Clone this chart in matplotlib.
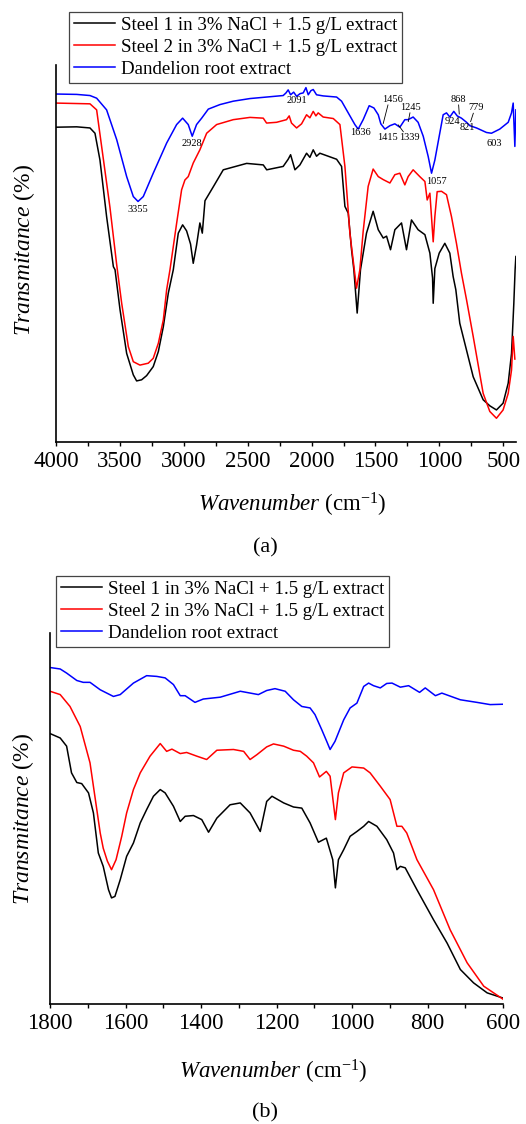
import matplotlib
matplotlib.use('Agg')
import matplotlib.pyplot as plt
from matplotlib.ticker import MultipleLocator

plt.rcParams['font.family'] = ['Liberation Serif', 'DejaVu Serif']
plt.rcParams['mathtext.fontset'] = 'custom'
plt.rcParams['mathtext.rm'] = 'Liberation Serif'
plt.rcParams['mathtext.it'] = 'Liberation Serif:italic'

# --- labels ---
series_labels = ['Steel 1 in 3% NaCl + 1.5 g/L extract',
                 'Steel 2 in 3% NaCl + 1.5 g/L extract',
                 'Dandelion root extract']

# --- panel (a): full range, transmittance in arbitrary % units ---
a_blue_wn = [4000, 3838, 3734, 3682, 3604, 3525, 3447, 3395, 3358, 3317, 3239, 3134, 3056,
             3009, 2965, 2934, 2900, 2860, 2808, 2717, 2613, 2482, 2352, 2222, 2200, 2183,
             2164, 2140, 2117, 2090, 2065, 2044, 2026, 2005, 1987, 1961, 1909, 1804, 1765,
             1713, 1661, 1635, 1596, 1549, 1512, 1478, 1458, 1426, 1387, 1348, 1309, 1270,
             1244, 1205, 1166, 1126, 1087, 1061, 1035, 1001, 970, 944, 918, 887, 860, 827,
             787, 761, 709, 631, 592, 527, 461, 435, 422, 409, 401]
a_blue_t = [92.3, 92.2, 91.9, 91.2, 88.1, 80.2, 70.4, 65.1, 63.8, 65.1, 71.3, 79.3, 84.2,
            85.9, 84.2, 81.1, 84.2, 85.9, 88.3, 89.5, 90.4, 91.1, 91.5, 91.9, 92.6, 93.4,
            92.1, 92.8, 91.7, 92.4, 92.6, 94.0, 92.1, 93.2, 93.5, 92.1, 91.8, 91.5, 90.4,
            87.3, 84.2, 83.0, 85.5, 89.2, 88.6, 86.8, 84.4, 83.0, 83.9, 84.4, 83.5, 85.5,
            85.5, 86.2, 84.8, 81.1, 75.7, 71.3, 74.8, 81.1, 86.8, 87.3, 86.2, 87.7, 86.5, 85.9,
            84.8, 83.9, 83.3, 82.1, 81.9, 83.0, 84.8, 87.3, 89.9, 78.4, 88.1]

a_red_wn = [4000, 3734, 3682, 3630, 3578, 3525, 3486, 3434, 3395, 3343, 3278, 3239, 3199,
            3160, 3134, 3108, 3056, 3017, 2991, 2965, 2926, 2874, 2821, 2743, 2613, 2482,
            2378, 2352, 2274, 2196, 2175, 2157, 2117, 2078, 2039, 2013, 1987, 1966, 1948,
            1909, 1830, 1778, 1739, 1700, 1648, 1622, 1596, 1557, 1518, 1478, 1439, 1387,
            1348, 1309, 1270, 1244, 1205, 1153, 1113, 1095, 1074, 1048, 1035, 1017, 983,
            944, 905, 866, 827, 787, 735, 657, 605, 553, 501, 461, 435, 422, 409]
a_red_t = [89.9, 89.7, 88.1, 75.2, 62.3, 47.0, 36.8, 25.3, 21.3, 20.4, 20.9, 22.2, 26.2,
           32.4, 40.4, 45.7, 58.0, 66.9, 69.5, 70.4, 74.0, 77.5, 81.9, 84.2, 85.5, 86.1,
           85.9, 84.6, 84.8, 85.5, 86.5, 84.6, 83.3, 84.4, 86.8, 86.0, 87.7, 86.5, 87.3,
           86.2, 85.8, 84.2, 73.1, 55.4, 40.8, 45.7, 55.9, 67.8, 72.4, 70.4, 69.6, 68.7,
           70.9, 71.3, 68.2, 70.4, 72.2, 70.4, 69.1, 64.2, 66.0, 53.1, 59.8, 66.4, 66.5,
           65.6, 59.8, 52.7, 44.8, 37.7, 28.0, 12.9, 8.1, 6.3, 8.5, 12.9, 19.1, 28.0, 22.0]

a_black_wn = [4000, 3838, 3734, 3695, 3656, 3604, 3551, 3538, 3499, 3447, 3395, 3369, 3330,
              3291, 3239, 3199, 3160, 3121, 3082, 3043, 3009, 2978, 2947, 2926, 2900, 2874,
              2855, 2834, 2769, 2691, 2508, 2378, 2351, 2222, 2183, 2164, 2130, 2091, 2039,
              2013, 1987, 1961, 1935, 1804, 1765, 1739, 1713, 1687, 1669, 1643, 1617, 1570,
              1518, 1478, 1439, 1413, 1382, 1348, 1296, 1257, 1218, 1166, 1113, 1074, 1053,
              1048, 1035, 1001, 957, 918, 892, 871, 840, 735, 657, 605, 553, 501, 461, 435,
              417, 407, 401]
a_black_t = [83.5, 83.6, 83.3, 81.9, 74.8, 59.8, 46.5, 45.7, 35.1, 23.5, 17.8, 16.2, 16.5,
             17.6, 20.0, 24.0, 30.6, 39.5, 45.7, 55.4, 57.6, 56.0, 52.5, 47.4, 52.2, 58.1,
             55.4, 64.0, 67.7, 72.2, 73.9, 73.5, 72.2, 73.1, 75.0, 76.2, 72.2, 73.5, 76.6,
             75.5, 77.5, 75.8, 76.6, 75.0, 73.1, 62.5, 60.7, 51.0, 45.7, 34.2, 45.7, 55.4,
             61.2, 56.3, 54.1, 54.6, 51.0, 56.3, 58.1, 51.0, 58.9, 56.3, 55.0, 50.1, 43.5,
             36.8, 46.0, 50.1, 52.7, 50.1, 43.9, 40.4, 31.5, 17.3, 11.2, 9.6, 8.5, 10.3, 15.6,
             23.5, 36.8, 45.7, 49.2]

# peak labels on the blue curve: text, text position, leader line end
peak_text = ['3355', '2928', '2091', '1636', '1456', '1415', '1339', '1245', '1057',
             '924', '868', '821', '779', '603']
peak_text_wn = [3361, 2933, 2116, 1613, 1365, 1404, 1230, 1222, 1021, 901, 849, 781, 715, 572]
peak_text_t = [61.7, 79.2, 90.5, 82.1, 90.9, 80.8, 80.8, 88.8, 69.2, 85.0, 90.9, 83.4, 88.8, 79.1]
leader_from_wn = [None, None, None, None, 1402, None, 1321, 1230, None, None, 849, None, 734, None]
leader_from_t = [None, None, None, None, 89.4, None, 84.1, 87.3, None, None, 89.4, None, 87.2, None]
leader_to_wn = [None, None, None, None, 1439, None, 1282, 1243, None, None, 844, None, 755, None]
leader_to_t = [None, None, None, None, 84.5, None, 82.3, 85.0, None, None, 87.0, None, 85.0, None]

# --- panel (b): 1800-600 cm-1 ---
b_blue_wn = [1800, 1773, 1756, 1729, 1712, 1694, 1667, 1632, 1614, 1579, 1544, 1517, 1495,
             1473, 1455, 1442, 1416, 1394, 1349, 1296, 1248, 1226, 1204, 1177, 1155, 1133,
             1111, 1098, 1080, 1067, 1058, 1045, 1022, 1005, 987, 969, 956, 943, 925, 908,
             894, 872, 850, 821, 806, 779, 762, 713, 669, 634, 600]
b_blue_t = [90.7, 90.3, 89.2, 87.2, 86.7, 86.7, 84.7, 82.9, 83.4, 86.5, 88.5, 88.3, 87.9,
            86.1, 83.1, 83.1, 81.3, 82.2, 82.7, 84.3, 83.4, 84.5, 85.0, 84.3, 82.0, 80.2,
            79.8, 78.0, 73.9, 70.8, 68.6, 70.8, 76.6, 79.8, 81.1, 85.6, 86.5, 85.8, 85.2, 86.4,
            86.5, 85.4, 85.8, 84.0, 85.2, 83.1, 83.8, 82.0, 81.3, 80.7, 80.8]

b_red_wn = [1800, 1773, 1747, 1720, 1694, 1676, 1667, 1659, 1648, 1637, 1625, 1614, 1610,
            1597, 1579, 1561, 1535, 1508, 1491, 1477, 1455, 1438, 1411, 1385, 1358, 1314,
            1287, 1270, 1252, 1226, 1208, 1181, 1155, 1137, 1120, 1102, 1086, 1068, 1058,
            1044, 1036, 1022, 1000, 969, 952, 925, 899, 881, 868, 855, 828, 784, 740, 695,
            651, 600]
b_red_t = [84.3, 83.4, 80.2, 74.8, 65.0, 52.4, 46.1, 42.0, 38.5, 36.2, 38.9, 43.5, 45.2,
           51.5, 57.8, 62.3, 66.8, 70.2, 68.1, 68.7, 67.5, 67.8, 66.8, 65.9, 68.4, 68.6,
           68.1, 65.9, 67.2, 69.3, 70.1, 69.5, 68.4, 68.1, 66.8, 65.0, 61.2, 62.7, 61.4,
           49.7, 56.9, 62.3, 63.9, 63.6, 62.3, 58.7, 55.1, 47.9, 47.9, 46.1, 38.9, 30.8,
           20.0, 11.1, 4.8, 1.3]

b_black_wn = [1800, 1773, 1756, 1743, 1729, 1716, 1698, 1685, 1672, 1659, 1645, 1637, 1628,
              1614, 1597, 1579, 1561, 1544, 1526, 1508, 1495, 1473, 1455, 1442, 1420, 1398,
              1380, 1358, 1323, 1296, 1270, 1243, 1226, 1212, 1181, 1155, 1133, 1111, 1089,
              1068, 1051, 1044, 1036, 1022, 1005, 987, 969, 956, 934, 908, 890, 881, 872, 859,
              828, 784, 748, 713, 678, 642, 600]
b_black_t = [72.9, 71.7, 69.5, 62.3, 59.7, 59.4, 56.9, 51.5, 40.7, 37.1, 30.8, 28.6, 29.0,
             33.5, 39.8, 43.4, 48.8, 52.4, 56.0, 57.8, 56.9, 53.3, 49.2, 50.6, 50.8, 49.7,
             46.3, 50.1, 53.7, 54.2, 51.5, 46.5, 54.6, 56.0, 54.2, 53.1, 52.8, 48.8, 43.6,
             44.7, 38.9, 31.3, 38.9, 41.6, 45.2, 46.5, 47.9, 49.2, 47.9, 44.3, 40.7, 36.2,
             37.1, 36.7, 30.8, 22.7, 16.4, 9.3, 5.7, 3.0, 1.6]


def style_axes(ax, xmax, xmin, major, minor):
    ax.set_xlim(xmax, xmin)
    ax.set_ylim(0, 100)
    ax.spines['top'].set_visible(False)
    ax.spines['right'].set_visible(False)
    ax.spines['left'].set_linewidth(1.2)
    ax.spines['bottom'].set_linewidth(1.2)
    ax.set_yticks([])
    ax.xaxis.set_major_locator(MultipleLocator(major))
    ax.xaxis.set_minor_locator(MultipleLocator(minor))
    ax.tick_params(axis='x', which='both', direction='out', length=3.2, width=1.0,
                   labelsize=16.5, pad=3)
    ax.set_xlabel(r'$\it{Wavenumber}$ (cm$^{\mathregular{-1}}$)', fontsize=16.5)
    ax.set_ylabel(r'$\it{Transmitance}$ (%)', fontsize=17)


def add_legend(ax, handles, x_px, y_px):
    leg = ax.legend(handles, series_labels, loc='upper left',
                    bbox_to_anchor=(x_px / 526, 1 - y_px / 1124),
                    bbox_transform=fig.transFigure, borderaxespad=0, fontsize=13.6,
                    handlelength=2.2, handletextpad=0.3, labelspacing=0.25,
                    borderpad=0.25, fancybox=False, framealpha=1)
    leg.get_frame().set_edgecolor('#444444')
    leg.get_frame().set_linewidth(0.9)
    return leg


fig = plt.figure(figsize=(5.26, 11.24), dpi=100)

# --- Panel (a) ---
ax1 = fig.add_axes([56 / 526, 1 - 442 / 1124, 460 / 526, 377 / 1124])
lines = []
for wn, t, c in [(a_black_wn, a_black_t, 'black'), (a_red_wn, a_red_t, 'red'),
                 (a_blue_wn, a_blue_t, 'blue')]:
    ln, = ax1.plot(wn, t, color=c, lw=1.1)
    lines.append(ln)
style_axes(ax1, 4000, 400, 500, 250)
ax1.xaxis.set_label_coords(0.513, -0.13)
ax1.yaxis.set_label_coords(-0.042, 0.51)

for i, txt in enumerate(peak_text):
    ax1.text(peak_text_wn[i], peak_text_t[i], txt, fontsize=7.5, ha='center', va='center')
    if leader_from_wn[i] is not None:
        ax1.plot([leader_from_wn[i], leader_to_wn[i]], [leader_from_t[i], leader_to_t[i]],
                 color='black', lw=0.6)

add_legend(ax1, lines, 69, 12)

# --- Panel (b) ---
ax2 = fig.add_axes([50 / 526, 1 - 1004 / 1124, 453 / 526, 371 / 1124])
lines = []
for wn, t, c in [(b_black_wn, b_black_t, 'black'), (b_red_wn, b_red_t, 'red'),
                 (b_blue_wn, b_blue_t, 'blue')]:
    ln, = ax2.plot(wn, t, color=c, lw=1.1)
    lines.append(ln)
style_axes(ax2, 1800, 600, 200, 100)
ax2.xaxis.set_label_coords(0.493, -0.145)
ax2.yaxis.set_label_coords(-0.03, 0.5)

add_legend(ax2, lines, 56, 576)

fig.text(265 / 526, 1 - 548 / 1124, '(a)', fontsize=16, ha='center', va='center')
fig.text(265 / 526, 1 - 1113 / 1124, '(b)', fontsize=16, ha='center', va='center')

fig.savefig('out.png', dpi=100)
